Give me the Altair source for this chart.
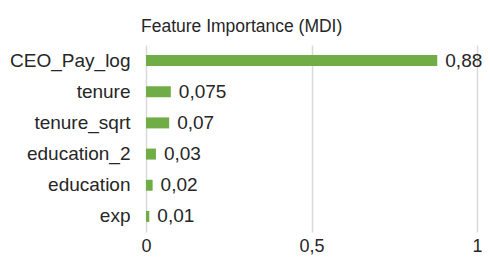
import altair as alt
import pandas as pd

features = ["CEO_Pay_log", "tenure", "tenure_sqrt", "education_2", "education", "exp"]
importance = [0.88, 0.075, 0.07, 0.03, 0.02, 0.01]
value_labels = ["0,88", "0,075", "0,07", "0,03", "0,02", "0,01"]
x_ticks = [0, 0.5, 1]

df = pd.DataFrame({"feature": features, "importance": importance, "label": value_labels})

FONT = "Liberation Sans"
TXT = "#262626"

y_enc = alt.Y("feature:N", sort=features, title=None,
              scale=alt.Scale(paddingInner=0, paddingOuter=0),
              axis=alt.Axis(domain=False, ticks=False, labelPadding=16,
                            labelFontSize=19, labelColor=TXT, labelFont=FONT, grid=False))
x_enc = alt.X("importance:Q", title=None,
              scale=alt.Scale(domain=[0, 1], nice=False),
              axis=alt.Axis(values=x_ticks, domain=False, ticks=False, tickSize=0,
                            labelFlush=False,
                            labelPadding=5, labelFontSize=18, labelColor=TXT, labelFont=FONT,
                            labelExpr="replace(format(datum.value, '~g'), '.', ',')",
                            grid=True, gridColor="#d9d9d9", gridWidth=1.5))

bars = alt.Chart(df).mark_bar(size=11, color="#70AD47").encode(x=x_enc, y=y_enc)
labels = alt.Chart(df).mark_text(align="left", baseline="middle", dx=8, fontSize=19,
                                 font=FONT, color=TXT).encode(
    x=alt.X("importance:Q"), y=alt.Y("feature:N", sort=features), text="label:N")

chart = alt.layer(bars, labels).properties(
    width=331, height=187,
    title=alt.TitleParams("Feature Importance (MDI)", anchor="start", frame="group",
                          dx=-5, offset=10, fontSize=17.5, font=FONT, fontWeight="normal",
                          color=TXT),
    padding={"left": 138, "top": 37, "right": 5, "bottom": 23},
    autosize=alt.AutoSizeParams(type="none"),
).configure_view(stroke=None)

chart.save("out.html", embed_options={"renderer": "svg", "actions": False})
